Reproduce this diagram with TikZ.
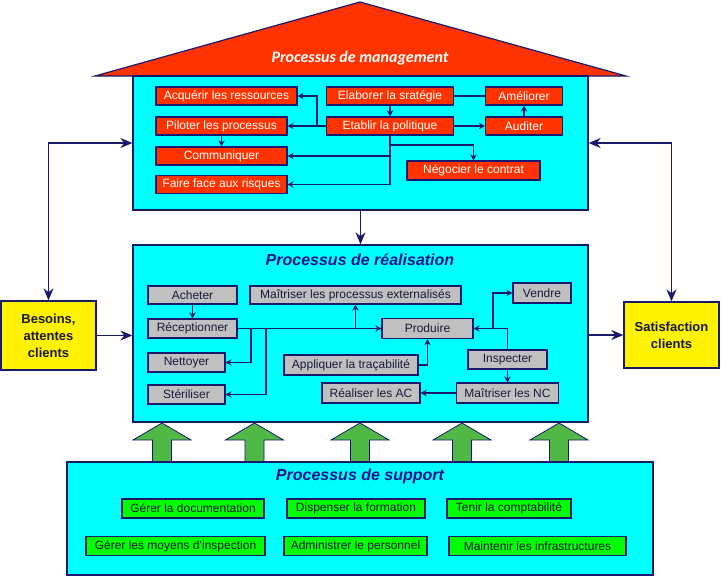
\documentclass[tikz,border=0pt]{standalone}
\usepackage{fontspec}
\setmainfont{Liberation Sans}
\newfontfamily\rooffont{Carlito}
\usetikzlibrary{arrows.meta,calc,positioning}

\definecolor{navyline}{RGB}{25,25,110}
\definecolor{titleblue}{RGB}{20,20,140}
\definecolor{roofred}{RGB}{255,51,0}
\definecolor{boxcyan}{RGB}{0,255,255}
\definecolor{boxgray}{RGB}{192,192,192}
\definecolor{boxgreen}{RGB}{0,255,0}
\definecolor{arrowgreen}{RGB}{80,185,70}
\definecolor{textdark}{RGB}{25,25,60}

\tikzset{
  procbox/.style={draw=navyline, line width=1.3pt, fill=boxcyan, inner sep=0pt},
  mgtbox/.style={draw=navyline, line width=1.2pt, fill=roofred, text=white, inner sep=0pt,
    minimum height=18pt, font=\fontsize{12}{14}\selectfont},
  realbox/.style={mgtbox, fill=boxgray, text=textdark},
  suppbox/.style={mgtbox, fill=boxgreen, text=textdark, minimum height=19pt},
  clientbox/.style={draw=navyline, line width=1.3pt, fill=yellow, text=textdark, inner sep=0pt,
    align=center, font=\fontsize{13}{17}\selectfont\bfseries},
  ptitle/.style={text=titleblue, font=\fontsize{16}{19}\selectfont\bfseries\itshape},
  link/.style={draw=navyline, line width=1.1pt, -{Stealth[length=6pt,width=6.5pt]}},
  biglink/.style={draw=navyline, line width=1.3pt, -{Stealth[length=12pt,width=10pt]}},
  dbllink/.style={biglink, {Stealth[length=12pt,width=10pt]}-{Stealth[length=12pt,width=10pt]}}
}

\begin{document}
\begin{tikzpicture}[x=1pt, y=-1pt]
\useasboundingbox (0,0) rectangle (721,576);

\draw [navyline, line width=1.2pt, fill=roofred] (95,76) -- (360,2) -- (626,76) -- cycle;
\node [text=white, font=\rooffont\fontsize{16}{19}\selectfont\bfseries\itshape] (mtitle) at (360,58) {Processus de management};

\node [procbox, minimum width=455pt, minimum height=134pt] (mgt) at (360.5,143) {};
\node [procbox, minimum width=455pt, minimum height=177pt] (real) at (360.5,333.5) {};
\node [ptitle] (rtitle) at (360,260) {Processus de réalisation};

\foreach \x in {162,254.5,360,462,559}
  \draw [navyline, line width=0.8pt, fill=arrowgreen] (\x,423) -- (\x+29,440) -- (\x+9.5,440)
    -- (\x+9.5,462) -- (\x-9.5,462) -- (\x-9.5,440) -- (\x-29,440) -- cycle;

\node [procbox, minimum width=586pt, minimum height=113pt] (sup) at (360,518.5) {};
\node [ptitle] (stitle) at (360,476) {Processus de support};

\node [clientbox, minimum width=95pt, minimum height=69pt] (bes) at (48.5,335.5) {Besoins,\\attentes\\clients};
\node [clientbox, minimum width=95pt, minimum height=66pt] (sat) at (671.5,335) {Satisfaction\\clients};

% management
\node [mgtbox, minimum width=141pt] (acq) at (226.5,96) {Acquérir les ressources};
\node [mgtbox, minimum width=131pt] (pil) at (221.5,126) {Piloter les processus};
\node [mgtbox, minimum width=131pt] (comm) at (221.5,156) {Communiquer};
\node [mgtbox, minimum width=131pt] (risk) at (221.5,184.5) {Faire face aux risques};
\node [mgtbox, minimum width=127pt] (strat) at (390,96) {Elaborer la sratégie};
\node [mgtbox, minimum width=127pt] (polit) at (390,126) {Etablir la politique};
\node [mgtbox, minimum width=77pt] (amel) at (524,96) {Améliorer};
\node [mgtbox, minimum width=77pt] (audit) at (524,126) {Auditer};
\node [mgtbox, minimum width=133pt, minimum height=19pt] (nego) at (473.5,170.5) {Négocier le contrat};

% realisation
\node [realbox, minimum width=89pt] (achat) at (192.5,295) {Acheter};
\node [realbox, minimum width=89pt, minimum height=19pt] (recep) at (192.5,328.5) {Réceptionner};
\node [realbox, minimum width=77pt, minimum height=19pt] (nett) at (186.5,362.5) {Nettoyer};
\node [realbox, minimum width=77pt, minimum height=19pt] (steri) at (186.5,394.5) {Stériliser};
\node [realbox, minimum width=211pt] (extern) at (355.5,295) {Maîtriser les processus externalisés};
\node [realbox, minimum width=134pt, minimum height=20pt] (traca) at (351,365) {Appliquer la traçabilité};
\node [realbox, minimum width=98pt, minimum height=20pt] (ac) at (371,393) {Réaliser les AC};
\node [realbox, minimum width=91pt, minimum height=20pt] (prod) at (427.5,328.5) {Produire};
\node [realbox, minimum width=58pt, minimum height=20pt] (vente) at (542,293) {Vendre};
\node [realbox, minimum width=79pt, minimum height=19pt] (insp) at (507.5,359.5) {Inspecter};
\node [realbox, minimum width=102pt, minimum height=20pt] (nc) at (507.5,393) {Maîtriser les NC};

% support
\node [suppbox, minimum width=142pt] (doc) at (193,508.5) {Gérer la documentation};
\node [suppbox, minimum width=138pt] (form) at (356,508.5) {Dispenser la formation};
\node [suppbox, minimum width=124pt] (compta) at (509,508.5) {Tenir la comptabilité};
\node [suppbox, minimum width=179pt] (moyens) at (175.5,546) {Gérer les moyens d'inspection};
\node [suppbox, minimum width=143pt] (perso) at (355.5,546) {Administrer le personnel};
\node [suppbox, minimum width=177pt] (infra) at (537.5,546) {Maintenir les infrastructures};

\draw [link] (strat) -- (polit);
\draw [draw=navyline, line width=1.1pt] (strat) -- (amel);
\draw [link] (audit) -- (amel);
\draw [link] (polit) -- (audit);
\draw [link] (polit) -- (pil);
\coordinate (m1) at (317,126);
\draw [link] (m1) |- (acq);
\draw [link] (pil) -- (comm);
\draw [link] (polit.south) |- (comm);
\draw [link] (polit.south) |- (risk);
\coordinate (m2) at (390,145);
\draw [link] (m2) -| (nego);

\draw [link] (achat) -- (recep);
\draw [link] (recep) -- (prod);
\coordinate (r1) at (extern |- recep);
\draw [link] (r1) -- (extern);
\coordinate (r2) at (251,328.5);
\draw [link] (r2) |- (nett);
\coordinate (r3) at (266,328.5);
\draw [link] (r3) |- (steri);
\draw [link] (traca) -| (prod);
\draw [link] (insp) |- (prod);
\coordinate (r4) at (493,328.5);
\draw [link] (r4) |- (vente);
\draw [link] (insp) -- (nc);
\draw [link] (nc) -- (ac);

\draw [biglink] (mgt) -- (real);
\draw [biglink] (bes) -- (bes -| real.west);
\draw [biglink] (real.east |- sat) -- (sat);
\draw [dbllink] (bes) |- (mgt);
\draw [dbllink] (mgt) -| (sat);
\end{tikzpicture}
\end{document}
